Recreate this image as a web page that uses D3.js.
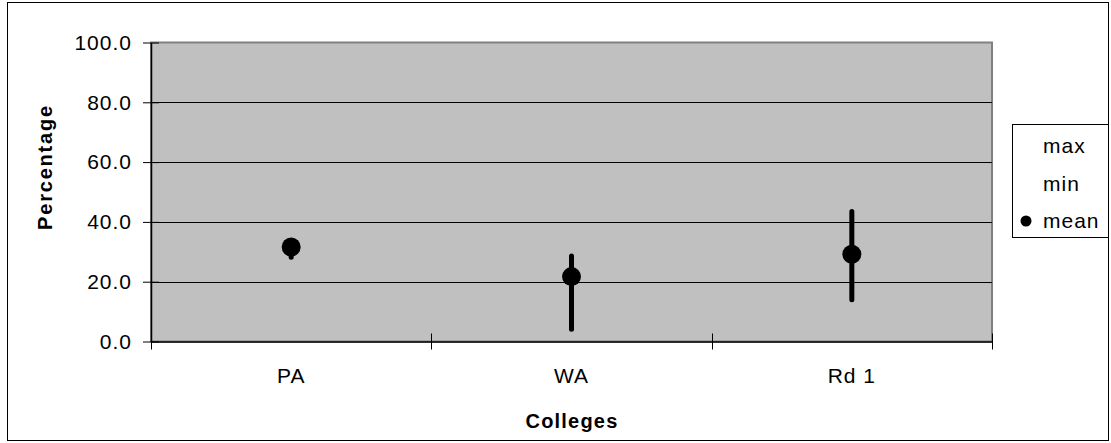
<!DOCTYPE html>
<html><head><meta charset="utf-8">
<script src="https://cdn.jsdelivr.net/npm/d3@7"></script>
<style>body{margin:0;background:#fff}svg{display:block}text{font-family:"Liberation Sans",Arial,sans-serif;fill:#000}</style>
</head><body><svg id="c" width="1111" height="443"></svg>
<script>
const categories = ["PA", "WA", "Rd 1"];
const maxVals = [33.0, 28.6, 43.5];
const minVals = [28.2, 4.1, 14.0];
const meanVals = [31.6, 21.7, 29.2];
const yTicks = [0, 20, 40, 60, 80, 100];
const legendItems = ["max", "min", "mean"];

const svg = d3.select("#c");
const L = 151, R = 992, T = 42.5, B = 341.5;
const x = d3.scaleBand().domain(categories).range([L, R]);
const y = d3.scaleLinear().domain([0, 100]).range([B, T]);

svg.append("rect").attr("x", 7.5).attr("y", 2.5).attr("width", 1101).attr("height", 438)
  .attr("fill", "#fff").attr("stroke", "#000");

svg.append("rect").attr("x", L).attr("y", T).attr("width", R - L).attr("height", B - T)
  .attr("fill", "#c0c0c0").attr("stroke", "#808080").attr("stroke-width", 2);

// gridlines
svg.append("g").selectAll("line").data(yTicks.filter(d => d > 0 && d < 100)).join("line")
  .attr("x1", L).attr("x2", R).attr("y1", d => Math.round(y(d)) + 0.5).attr("y2", d => Math.round(y(d)) + 0.5)
  .attr("stroke", "#000").attr("stroke-width", 1);

// y axis
const yAxis = d3.axisLeft(y).tickValues(yTicks).tickFormat(d3.format(".1f")).tickSizeInner(8).tickSizeOuter(0).tickPadding(11);
const gy = svg.append("g").attr("transform", `translate(${L},0)`).call(yAxis);
gy.select(".domain").attr("stroke", "#000").attr("stroke-width", 1.5);
gy.selectAll(".tick line").attr("x2", -8).attr("x1", 8).attr("stroke", "#000");
gy.selectAll("text").attr("font-size", 21).style("letter-spacing", "1px").attr("font-family", "Liberation Sans, Arial, sans-serif").attr("fill", "#000");

// x axis
const xAxis = d3.axisBottom(x).tickSize(0).tickPadding(27);
const gx = svg.append("g").attr("transform", `translate(0,${B})`).call(xAxis);
gx.select(".domain").attr("stroke", "#000").attr("stroke-width", 1.5);
gx.selectAll("text").attr("font-size", 21).style("letter-spacing", "1px").attr("font-family", "Liberation Sans, Arial, sans-serif").attr("fill", "#000");
const bounds = categories.map(c => x(c)).concat([R]);
gx.append("g").selectAll("line").data(bounds).join("line")
  .attr("x1", d => Math.round(d) + 0.5).attr("x2", d => Math.round(d) + 0.5).attr("y1", -8).attr("y2", 8)
  .attr("stroke", "#000");

// titles
svg.append("text").attr("x", 572).attr("y", 428).attr("text-anchor", "middle")
  .attr("font-size", 20).attr("font-weight", "bold").style("letter-spacing", "1.2px").text("Colleges");
svg.append("text").attr("transform", "translate(52,167) rotate(-90)").attr("text-anchor", "middle")
  .attr("font-size", 20).attr("font-weight", "bold").style("letter-spacing", "1.8px").text("Percentage");

// marks
const data = categories.map((c, i) => ({c, max: maxVals[i], min: minVals[i], mean: meanVals[i]}));
const cx = d => x(d.c) + x.bandwidth() / 2;
svg.append("g").selectAll("line").data(data).join("line")
  .attr("x1", cx).attr("x2", cx).attr("y1", d => y(d.min)).attr("y2", d => y(d.max))
  .attr("stroke", "#000").attr("stroke-width", 5).attr("stroke-linecap", "round");
svg.append("g").selectAll("circle").data(data).join("circle")
  .attr("cx", cx).attr("cy", d => y(d.mean)).attr("r", 9.5).attr("fill", "#000");

// legend
const lg = svg.append("g");
lg.append("rect").attr("x", 1012.5).attr("y", 124.5).attr("width", 96).attr("height", 113)
  .attr("fill", "#fff").attr("stroke", "#000");
lg.selectAll("text").data(legendItems).join("text")
  .attr("x", 1043).attr("y", (d, i) => 146 + i * 37.5).attr("dy", "0.35em")
  .attr("font-size", 21).style("letter-spacing", "1px").text(d => d);
lg.append("circle").attr("cx", 1026).attr("cy", 221).attr("r", 5.5).attr("fill", "#000");
</script></body></html>
